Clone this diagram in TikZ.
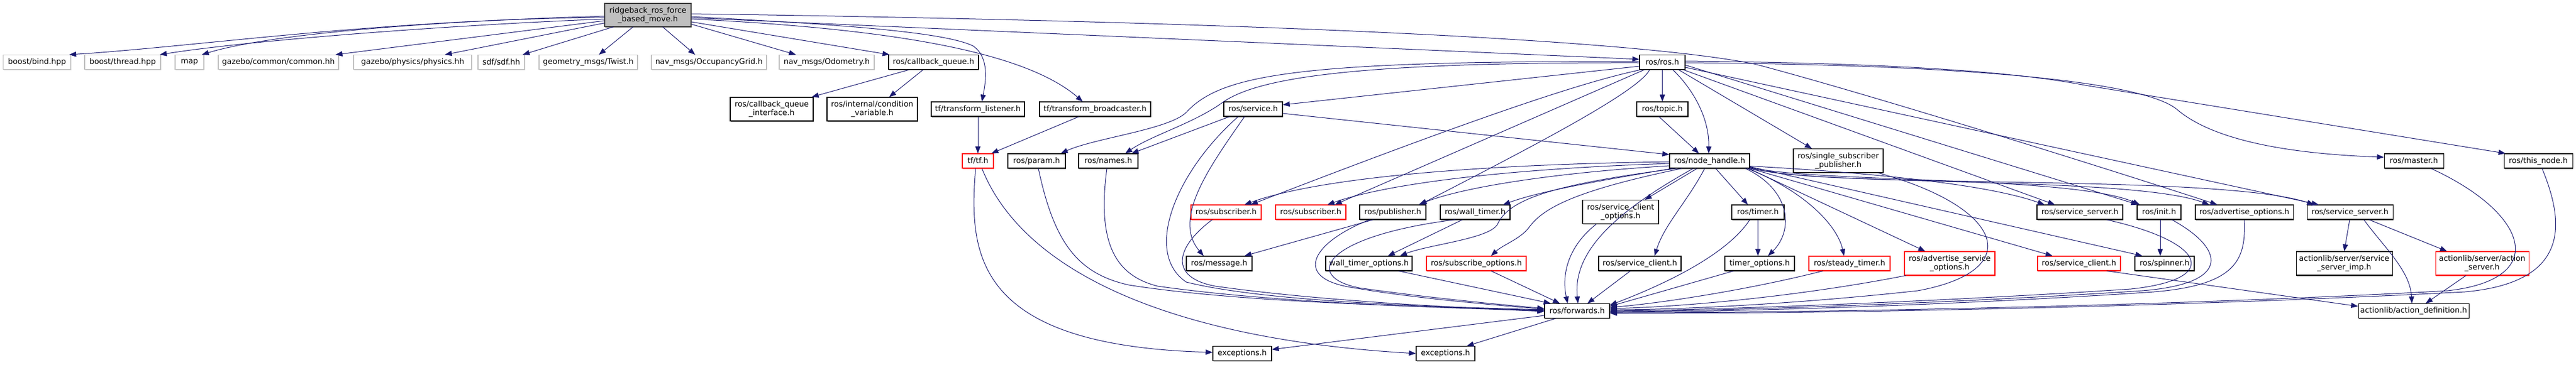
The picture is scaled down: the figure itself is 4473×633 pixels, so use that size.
\documentclass[tikz,border=0pt]{standalone}
\usepackage{fontspec}
\setmainfont{DejaVu Sans}
\usetikzlibrary{arrows.meta,shadows}
\definecolor{edgec}{HTML}{191970}
\definecolor{greyb}{HTML}{BFBFBF}
\definecolor{rootb}{HTML}{404040}
\tikzset{
  nbox/.style={draw, line width=1.1pt, fill=white, inner sep=0pt, align=center,
    font=\fontsize{13.4}{15}\selectfont},
  blk/.style={nbox, draw=black, drop shadow={shadow xshift=1.2pt,shadow yshift=-1.8pt,fill=black!50,opacity=1}},
  gry/.style={nbox, draw=greyb, drop shadow={shadow xshift=1.2pt,shadow yshift=-1.8pt,fill=greyb!70,opacity=1}},
  redb/.style={nbox, draw=red, drop shadow={shadow xshift=1.2pt,shadow yshift=-1.8pt,fill=red!45,opacity=1}},
  rootbox/.style={nbox, draw=rootb, fill=greyb, drop shadow={shadow xshift=1.2pt,shadow yshift=-1.8pt,fill=black!50,opacity=1}},
  edg/.style={draw=edgec, line width=1pt, -{Triangle[length=12pt,width=9pt]}},
}
\newcommand\mkn[7]{\node[#6,minimum width=#4pt,minimum height=#5pt] (#1) at (#2,#3) {#7};}
\begin{document}
\begin{tikzpicture}[x=1pt,y=-1pt]
\useasboundingbox (0,0) rectangle (4473,633);
% row 1
\mkn{root}{1125}{26}{150}{40}{rootbox}{ridgeback\_ros\_force\\\_based\_move.h}
\mkn{bind}{64.2}{108}{117}{25}{gry}{boost/bind.hpp}
\mkn{thread}{213}{108}{132}{25}{gry}{boost/thread.hpp}
\mkn{map}{329}{108}{50}{25}{gry}{map}
\mkn{gcommon}{483.5}{108}{209}{25}{gry}{gazebo/common/common.hh}
\mkn{gphys}{716.5}{108}{205}{25}{gry}{gazebo/physics/physics.hh}
\mkn{sdf}{870.5}{108}{81}{25}{gry}{sdf/sdf.hh}
\mkn{twist}{1021.5}{108}{171}{25}{gry}{geometry\_msgs/Twist.h}
\mkn{occ}{1231}{108}{200}{25}{gry}{nav\_msgs/OccupancyGrid.h}
\mkn{odom}{1435.5}{108}{165}{25}{gry}{nav\_msgs/Odometry.h}
\mkn{cbq}{1621}{108}{156}{25}{blk}{ros/callback\_queue.h}
\mkn{rosh}{2886.5}{108}{79}{25}{blk}{ros/ros.h}
% row 2
\mkn{cbqi}{1340}{189.5}{144}{41}{blk}{ros/callback\_queue\\\_interface.h}
\mkn{condvar}{1514.5}{189.5}{157}{41}{blk}{ros/internal/condition\\\_variable.h}
\mkn{tlisten}{1698}{189.5}{162}{25}{blk}{tf/transform\_listener.h}
\mkn{tbroad}{1901.5}{189.5}{193}{25}{blk}{tf/transform\_broadcaster.h}
\mkn{service}{2176}{189.5}{102}{25}{blk}{ros/service.h}
\mkn{topic}{2886.5}{189.5}{89}{25}{blk}{ros/topic.h}
% row 3
\mkn{tf}{1698}{279.5}{54}{25}{redb}{tf/tf.h}
\mkn{param}{1800}{279.5}{100}{25}{blk}{ros/param.h}
\mkn{names}{1924.5}{279.5}{103}{25}{blk}{ros/names.h}
\mkn{nh}{2968.5}{279.5}{139}{25}{blk}{ros/node\_handle.h}
\mkn{ssp}{3192}{279}{156}{41}{blk}{ros/single\_subscriber\\\_publisher.h}
\mkn{master}{4191.5}{279.5}{103}{25}{blk}{ros/master.h}
\mkn{thisnode}{4407.5}{279.5}{119}{25}{blk}{ros/this\_node.h}
% row 4
\mkn{sub1}{2129}{368.5}{122}{25}{redb}{ros/subscriber.h}
\mkn{sub2}{2276}{368.5}{122}{25}{redb}{ros/subscriber.h}
\mkn{pub}{2418.5}{368.5}{115}{25}{blk}{ros/publisher.h}
\mkn{wtimer}{2561.5}{368.5}{121}{25}{blk}{ros/wall\_timer.h}
\mkn{sco}{2814}{368}{132}{41}{blk}{ros/service\_client\\\_options.h}
\mkn{timer}{3052.5}{368.5}{91}{25}{blk}{ros/timer.h}
\mkn{ss1}{3611.5}{368.5}{149}{25}{blk}{ros/service\_server.h}
\mkn{init}{3749}{368.5}{76}{25}{blk}{ros/init.h}
\mkn{advopt}{3897}{368.5}{170}{25}{blk}{ros/advertise\_options.h}
\mkn{ss2}{4080.5}{368.5}{149}{25}{blk}{ros/service\_server.h}
% row 5
\mkn{msg}{2117}{457.5}{114}{25}{blk}{ros/message.h}
\mkn{wto}{2377}{457.5}{150}{25}{blk}{wall\_timer\_options.h}
\mkn{subopt}{2563.5}{457.5}{173}{25}{redb}{ros/subscribe\_options.h}
\mkn{sc1}{2847.5}{457.5}{143}{25}{blk}{ros/service\_client.h}
\mkn{topt}{3055.5}{457.5}{121}{25}{blk}{timer\_options.h}
\mkn{steady}{3211.5}{457.5}{141}{25}{redb}{ros/steady\_timer.h}
\mkn{aso}{3385.5}{457.5}{157}{41}{redb}{ros/advertise\_service\\\_options.h}
\mkn{sc2}{3610}{457.5}{144}{25}{redb}{ros/service\_client.h}
\mkn{spinner}{3758.5}{457.5}{103}{25}{blk}{ros/spinner.h}
\mkn{ssimp}{4070.5}{457.5}{167}{41}{blk}{actionlib/server/service\\\_server\_imp.h}
\mkn{actsrv}{4310}{457.5}{162}{41}{redb}{actionlib/server/action\\\_server.h}
% row 6, 7
\mkn{fwd}{2738.5}{540}{113}{25}{blk}{ros/forwards.h}
\mkn{actdef}{4191}{540}{192}{25}{blk}{actionlib/action\_definition.h}
\mkn{exc1}{2157}{614}{102}{25}{blk}{exceptions.h}
\mkn{exc2}{2510}{614}{102}{25}{blk}{exceptions.h}

% root edges
\draw[edg] ([yshift=-4]root.west) .. controls (650,35) and (350,80) .. ([xshift=-3]bind.north east);
\draw[edg] ([yshift=-7]root.west) .. controls (750,45) and (420,72) .. ([xshift=-2]thread.north east);
\draw[edg] ([yshift=-2]root.west) .. controls (800,35) and (480,55) .. ([xshift=-4]map.north east);
\draw[edg] ([yshift=-10]root.west) -- ([xshift=-6]gcommon.north east);
\draw[edg] ([yshift=-14]root.west) -- ([xshift=-47]gphys.north east);
\draw[edg] ([xshift=16]root.south west) -- ([xshift=-4]sdf.north east);
\draw[edg] ([xshift=50]root.south west) -- ([xshift=18.5]twist.north);
\draw[edg] ([xshift=101]root.south west) -- ([xshift=-24]occ.north);
\draw[edg] ([yshift=-16]root.east) -- ([xshift=-53.5]odom.north);
\draw[edg] ([yshift=-12]root.east) -- ([xshift=2]cbq.north west);
\draw[edg] ([yshift=-5]root.east) -- ([yshift=5]rosh.west);
\draw[edg] ([yshift=2]root.east) .. controls (2200,38) and (2850,70) .. (3050,112) .. controls (3250,165) and (3650,290) .. ([xshift=-47]advopt.north);
\draw[edg] ([yshift=-3]root.east) .. controls (1450,42) and (1640,55) .. (1690,80) .. controls (1718,100) and (1712,140) .. ([xshift=7]tlisten.north);
\draw[edg] ([yshift=-7]root.east) .. controls (1550,50) and (1780,90) .. ([xshift=-21.5]tbroad.north);
% callback queue, tf
\draw[edg] ([xshift=-42]cbq.south) -- ([xshift=-3]cbqi.north east);
\draw[edg] ([xshift=-18]cbq.south) -- ([xshift=29.5]condvar.north);
\draw[edg] (tlisten.south) -- (tf.north);
\draw[edg] ([xshift=-28]tbroad.south) -- ([xshift=-4]tf.north east);
\draw[edg] ([xshift=-4]tf.south) .. controls (1682,440) and (1690,600) .. ([yshift=2]exc1.west);
\draw[edg] ([xshift=7]tf.south) .. controls (1780,480) and (2050,590) .. (exc2.west);
% ros.h edges
\draw[edg] ([yshift=-7]rosh.west) -- ([yshift=7.5]service.east);
\draw[edg] ([yshift=1]rosh.west) .. controls (2250,105) and (2120,130) .. (2060,195) .. controls (2030,225) and (1900,240) .. ([xshift=42]param.north);
\draw[edg] ([yshift=-1]rosh.west) .. controls (2350,108) and (2180,135) .. (2120,180) .. controls (2070,215) and (2000,235) .. ([xshift=29.5]names.north);
\draw[edg] (rosh.south) -- (topic.north);
\draw[edg] ([xshift=18]rosh.south) .. controls (2935,150) and (2968,200) .. ([xshift=-1.5]nh.north);
\draw[edg] ([xshift=3]rosh.south west) .. controls (2760,140) and (2600,190) .. ([xshift=43]sub1.north);
\draw[edg] ([xshift=9]rosh.south west) -- ([xshift=42]sub2.north);
\draw[edg] ([xshift=18]rosh.south west) .. controls (2845,160) and (2650,260) .. ([xshift=47]pub.north);
\draw[edg] ([xshift=-12]rosh.south east) -- ([xshift=-46]ssp.north);
\draw[edg] ([xshift=-4]rosh.south east) -- ([xshift=-43.5]ss1.north);
\draw[edg] ([yshift=-5]rosh.east) -- ([xshift=2]init.north west);
\draw[edg] ([yshift=-9]rosh.east) -- ([xshift=-54.5]ss2.north);
\draw[edg] ([yshift=-1]rosh.east) .. controls (3400,112) and (3720,140) .. (3780,190) .. controls (3850,250) and (4000,268) .. ([yshift=6.5]master.west);
\draw[edg] ([yshift=2]rosh.east) .. controls (3300,110) and (3500,125) .. (3620,148) -- ([xshift=3]thisnode.north west);
% service, topic, param, names
\draw[edg] ([xshift=-41]service.south) -- ([xshift=40.5]names.north);
\draw[edg] ([xshift=-15]service.south) .. controls (2100,290) and (2035,380) .. ([xshift=-27]msg.north);
\draw[edg] ([xshift=-26]service.south) .. controls (2040,300) and (1985,440) .. (2060,490) .. controls (2200,525) and (2500,533) .. ([yshift=2]fwd.west);
\draw[edg] ([yshift=-7.5]service.east) -- ([yshift=-2]nh.north west);
\draw[edg] ([xshift=-6]topic.south) -- ([xshift=-18.5]nh.north);
\draw[edg] ([xshift=3]param.south) .. controls (1830,420) and (1870,475) .. (1960,495) .. controls (2150,525) and (2450,532) .. ([yshift=1]fwd.west);
\draw[edg] ([xshift=-2.5]names.south) .. controls (1905,420) and (1935,478) .. (2010,497) .. controls (2200,524) and (2450,533) .. (fwd.west);
% node_handle edges
\draw[edg] ([yshift=-1.5]nh.west) .. controls (2600,285) and (2300,305) .. ([xshift=32]sub1.north);
\draw[edg] ([yshift=-4.5]nh.west) .. controls (2650,292) and (2420,315) .. ([xshift=29]sub2.north);
\draw[edg] ([yshift=-8.5]nh.west) .. controls (2700,300) and (2540,325) .. ([xshift=45]pub.north);
\draw[edg] ([xshift=6]nh.south west) .. controls (2800,310) and (2680,330) .. ([xshift=48.5]wtimer.north);
\draw[edg] ([xshift=13]nh.south west) .. controls (2700,320) and (2620,345) .. (2600,390) .. controls (2585,415) and (2480,425) .. ([xshift=54]wto.north);
\draw[edg] ([xshift=22]nh.south west) .. controls (2740,330) and (2680,360) .. (2655,395) .. controls (2640,415) and (2610,425) .. ([xshift=25.5]subopt.north);
\draw[edg] ([xshift=-28.5]nh.south) .. controls (2820,360) and (2730,430) .. ([xshift=1.5]fwd.north);
\draw[edg] ([xshift=-21.5]nh.south) -- ([xshift=42]sco.north);
\draw[edg] ([xshift=-8.5]nh.south) .. controls (2930,350) and (2890,390) .. ([xshift=25.5]sc1.north);
\draw[edg] ([xshift=10.5]nh.south) -- ([xshift=-17.5]timer.north);
\draw[edg] ([xshift=-8]nh.south east) .. controls (3110,330) and (3115,400) .. ([xshift=14.5]topt.north);
\draw[edg] ([xshift=-5]nh.south east) .. controls (3130,330) and (3190,390) .. ([xshift=-9.5]steady.north);
\draw[edg] ([xshift=-2]nh.south east) -- ([xshift=-42.5]aso.north);
\draw[edg] (nh.south east) -- ([xshift=-46]sc2.north);
\draw[edg] ([yshift=-10]nh.east) -- ([xshift=-38.5]spinner.north);
\draw[edg] ([yshift=-9]nh.east) .. controls (3250,300) and (3450,320) .. ([xshift=-61.5]ss1.north);
\draw[edg] ([yshift=-11]nh.east) .. controls (3150,318) and (3600,305) .. ([xshift=5]init.north west);
\draw[edg] ([yshift=-12]nh.east) .. controls (3150,325) and (3700,305) .. ([xshift=-61]advopt.north);
\draw[edg] ([yshift=-11.5]nh.east) .. controls (3150,330) and (3850,300) .. ([xshift=-62.5]ss2.north);
% row 4 -> row 5 / forwards
\draw[edg] ([xshift=-24]sub1.south) .. controls (2040,430) and (2030,482) .. (2110,497) .. controls (2300,524) and (2550,535) .. ([yshift=-1]fwd.west);
\draw[edg] ([xshift=-34]pub.south) -- ([xshift=44]msg.north);
\draw[edg] ([xshift=-40]pub.south) .. controls (2280,420) and (2245,480) .. (2340,498) .. controls (2450,518) and (2600,530) .. ([yshift=3]fwd.west);
\draw[edg] ([xshift=-22]wtimer.south) -- ([xshift=33]wto.north);
\draw[edg] ([xshift=-35]wtimer.south) .. controls (2300,410) and (2260,480) .. (2360,500) .. controls (2500,520) and (2620,530) .. ([yshift=4]fwd.west);
\draw[edg] ([xshift=-42]sco.south) .. controls (2720,430) and (2712,480) .. ([xshift=-16.5]fwd.north);
\draw[edg] (timer.south) -- ([xshift=-3]topt.north);
\draw[edg] ([xshift=-14]timer.south) .. controls (3000,440) and (2900,490) .. ([yshift=10]fwd.east);
\draw[edg] ([xshift=-10]ssp.south east) .. controls (3480,360) and (3520,470) .. (3330,505) .. controls (3100,530) and (2900,538) .. ([yshift=2]fwd.east);
\draw[edg] ([xshift=46]ss1.south) .. controls (3830,420) and (3860,485) .. (3700,502) .. controls (3400,522) and (3000,538) .. (fwd.east);
\draw[edg] ([xshift=22]init.south) .. controls (3860,430) and (3880,492) .. (3720,505) .. controls (3400,526) and (3000,540) .. ([yshift=-1]fwd.east);
\draw[edg] ([xshift=2]init.south) -- ([xshift=-7.5]spinner.north);
\draw[edg] (advopt.south) .. controls (3900,450) and (3885,495) .. (3740,507) .. controls (3400,530) and (3000,542) .. ([yshift=-2]fwd.east);
\draw[edg] ([xshift=29.5]master.south) .. controls (4390,370) and (4430,485) .. (4250,505) .. controls (3800,530) and (3200,543) .. ([yshift=-3]fwd.east);
\draw[edg] ([xshift=6.5]thisnode.south) .. controls (4450,380) and (4470,490) .. (4280,507) .. controls (3800,532) and (3200,545) .. ([yshift=-4]fwd.east);
\draw[edg] ([xshift=-0.5]ss2.south) -- (ssimp.north);
\draw[edg] ([xshift=24]ss2.south) .. controls (4140,430) and (4185,470) .. ([xshift=-3]actdef.north);
\draw[edg] ([xshift=33]ss2.south) -- ([xshift=-61]actsrv.north);
% row 5 -> forwards
\draw[edg] ([xshift=51]wto.south) -- ([xshift=-46]fwd.north);
\draw[edg] ([xshift=25.5]subopt.south) -- ([xshift=-30]fwd.north);
\draw[edg] ([xshift=-16.5]sc1.south) -- ([xshift=18]fwd.north);
\draw[edg] ([xshift=-45]topt.south) -- ([yshift=8]fwd.east);
\draw[edg] ([xshift=-46]steady.south) .. controls (3050,500) and (2900,525) .. ([yshift=6]fwd.east);
\draw[edg] ([xshift=3]aso.south west) .. controls (3150,510) and (2950,532) .. ([yshift=4]fwd.east);
\draw[edg] ([xshift=48]sc2.south) -- ([yshift=8]actdef.west);
\draw[edg] ([xshift=-28]actsrv.south) -- ([xshift=21]actdef.north);
% forwards -> exceptions
\draw[edg] ([yshift=-8]fwd.west) -- ([yshift=7]exc1.east);
\draw[edg] ([xshift=-37]fwd.south) -- ([xshift=37]exc2.north);
\end{tikzpicture}
\end{document}
